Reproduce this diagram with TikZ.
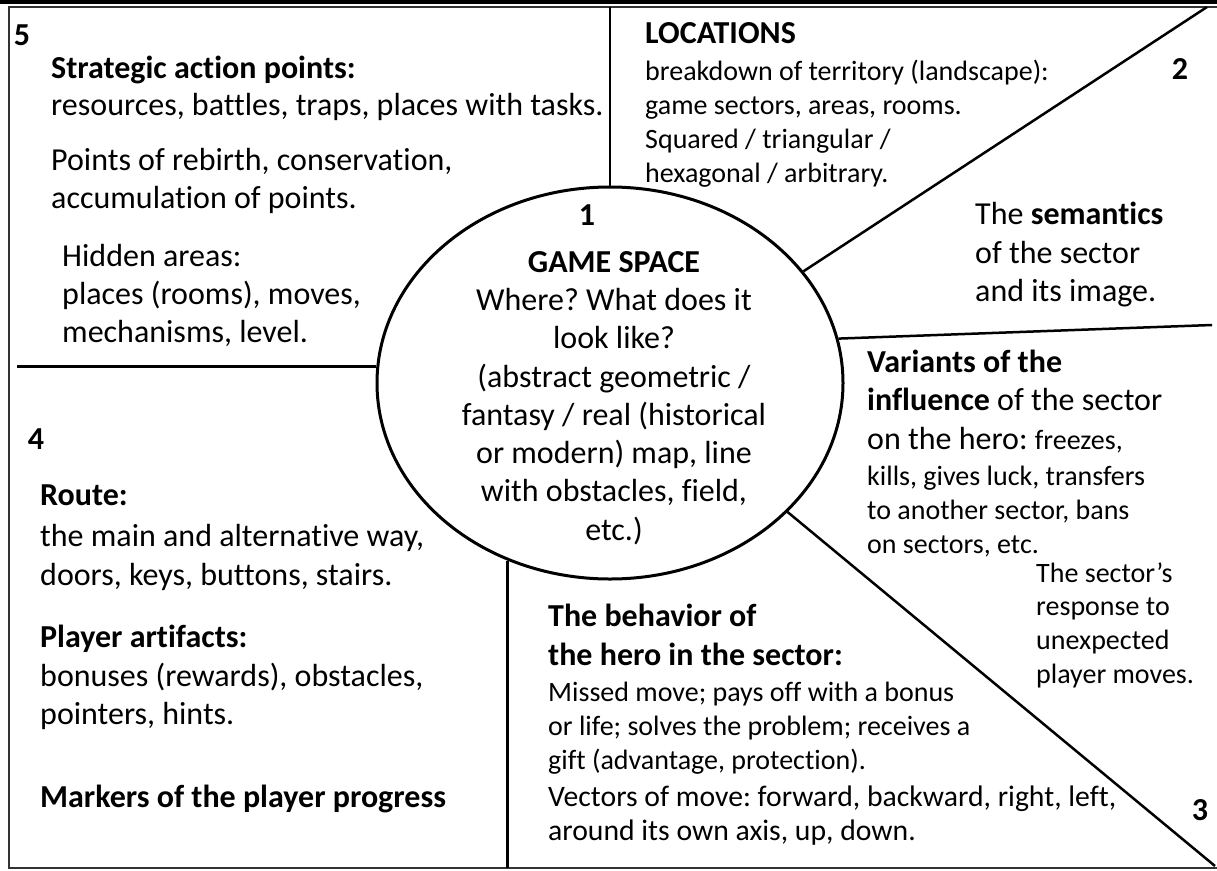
\documentclass[tikz,border=0pt]{standalone}
\usepackage{fontspec}
\setmainfont{Carlito}[Ligatures=NoCommon]
\usetikzlibrary{shapes.geometric}
\frenchspacing
\begin{document}
\begin{tikzpicture}[x=1pt,y=-1pt,
  big/.style={font=\fontsize{32}{38}\selectfont, anchor=mid west, inner sep=0pt},
  sm/.style={font=\fontsize{28}{34}\selectfont, anchor=mid west, inner sep=0pt},
  smb/.style={font=\fontsize{29.7}{36}\selectfont, anchor=mid west, inner sep=0pt},
  ctr/.style={font=\fontsize{32}{38}\selectfont, anchor=mid, inner sep=0pt},
  num/.style={font=\fontsize{32}{38}\selectfont\bfseries, anchor=mid, inner sep=0pt},
  rule/.style={line width=2.5pt},
  frame/.style={line width=2pt, draw=black!80},
]
\useasboundingbox (0,0) rectangle (1217,870);
% frame
\draw[line width=4.5pt] (0,2) -- (1217,2);
\coordinate (ftl) at (9,7);
\coordinate (ftr) at (1217,7);
\coordinate (fbl) at (9,868);
\coordinate (fbr) at (1217,868);
\draw[frame] (ftr) -- (ftl) -- (fbl) -- (fbr);
% central ellipse
\node[draw, ellipse, line width=3pt, minimum width=466pt, minimum height=392pt, inner sep=0pt] (core) at (610,383) {};
% dividing lines
\coordinate (topend) at (607,7);
\coordinate (tr) at (1207,7);
\coordinate (rh) at (1212,325);
\coordinate (br) at (1215,866);
\coordinate (bv) at (511,868);
\coordinate (lh) at (17,368);
\draw[rule] (core.north) -- (core.north |- topend);
\draw[rule] (core.30.5) -- (tr);
\draw[rule] (core.11) -- (rh);
\draw[rule] (core.-36) -- (br);
\draw[rule] (core.240.3) -- (core.240.3 |- bv);
\draw[rule] (core.176.3) -- (core.176.3 -| lh);
\begin{scope}[shift={(0,2)}]
% numbers
\node[num] (n5) at (22,41) {5};
\node[num] (n2) at (1180,75) {2};
\node[num] (n3) at (1200,816) {3};
\node[num] (n4) at (36,445) {4};
\node[num] (n1) at (587,221) {1};
% region 5
\node[big] (a1) at (51,74) {\bfseries Strategic action points:};
\node[big] (a2) at (51,111) {resources, battles, traps, places with tasks.};
\node[big] (a3) at (51,166) {Points of rebirth, conservation,};
\node[big] (a4) at (51,204) {accumulation of points.};
\node[big] (a5) at (62,262) {Hidden areas:};
\node[big] (a6) at (62,300) {places (rooms), moves,};
\node[big] (a7) at (62,338) {mechanisms, level.};
% region 2
\node[big] (b1) at (645,39) {\bfseries LOCATIONS};
\node[sm] (b2) at (645,76) {breakdown of territory (landscape):};
\node[sm] (b3) at (645,110) {game sectors, areas, rooms.};
\node[sm] (b4) at (645,144) {Squared / triangular /};
\node[sm] (b5) at (645,178) {hexagonal / arbitrary.};
\node[big] (b6) at (975,220) {The \textbf{semantics}};
\node[big] (b7) at (975,259) {of the sector};
\node[big] (b8) at (975,297) {and its image.};
% region 3
\node[big] (c1) at (867,368) {\bfseries Variants of the};
\node[big] (c2) at (867,406) {\textbf{influence} of the sector};
\node[big] (c3) at (867,445) {on the hero: {\fontsize{28}{34}\selectfont freezes,}};
\node[sm] (c4) at (867,481) {kills, gives luck, transfers};
\node[sm] (c5) at (867,515) {to another sector, bans};
\node[sm] (c6) at (867,549) {on sectors, etc.};
\node[sm] (c7) at (1036,578) {The sector’s};
\node[sm] (c8) at (1036,611) {response to};
\node[sm] (c9) at (1036,645) {unexpected};
\node[sm] (c10) at (1036,679) {player moves.};
% bottom middle
\node[big] (d1) at (548,622) {\bfseries The behavior of};
\node[big] (d2) at (548,661) {\bfseries the hero in the sector:};
\node[sm] (d3) at (548,697) {Missed move; pays off with a bonus};
\node[sm] (d4) at (548,731) {or life; solves the problem; receives a};
\node[sm] (d5) at (548,765) {gift (advantage, protection).};
\node[smb] (d6) at (548,802) {Vectors of move: forward, backward, right, left,};
\node[smb] (d7) at (548,836) {around its own axis, up, down.};
% region 4
\node[big] (e1) at (40,501) {\bfseries Route:};
\node[big] (e2) at (40,542) {the main and alternative way,};
\node[big] (e3) at (40,581) {doors, keys, buttons, stairs.};
\node[big] (e4) at (40,643) {\bfseries Player artifacts:};
\node[big] (e5) at (40,682) {bonuses (rewards), obstacles,};
\node[big] (e6) at (40,720) {pointers, hints.};
\node[big] (e7) at (40,803) {\bfseries Markers of the player progress};
% centre text
\node[ctr] (g1) at (614,268) {\bfseries GAME SPACE};
\node[ctr] (g2) at (614,306) {Where? What does it};
\node[ctr] (g3) at (614,344) {look like?};
\node[ctr] (g4) at (614,383) {(abstract geometric /};
\node[ctr] (g5) at (614,421) {fantasy / real (historical};
\node[ctr] (g6) at (614,459) {or modern) map, line};
\node[ctr] (g7) at (614,497) {with obstacles, field,};
\node[ctr] (g8) at (614,536) {etc.)};
\end{scope}
\end{tikzpicture}
\end{document}
